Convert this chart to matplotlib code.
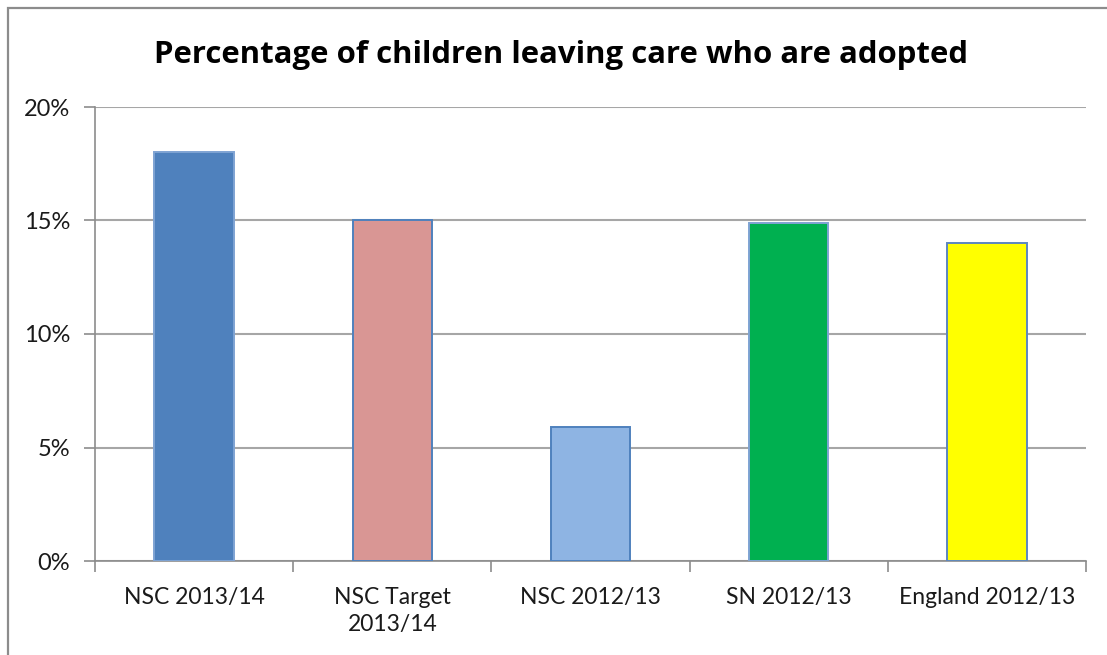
import matplotlib
matplotlib.use("Agg")
import matplotlib.pyplot as plt
from matplotlib.patches import Rectangle
from matplotlib.ticker import FuncFormatter, FixedLocator

categories = ["NSC 2013/14", "NSC Target\n2013/14", "NSC 2012/13", "SN 2012/13", "England 2012/13"]
values = [18.0, 15.0, 5.9, 14.9, 14.0]
fill_colors = ["#4F81BD", "#D99694", "#8EB4E3", "#00B050", "#FFFF00"]
edge_colors = ["#7FA3D3", "#4F81BD", "#4F81BD", "#7FA3D3", "#5C86C0"]
y_ticks = [0, 5, 10, 15, 20]

plt.rcParams["font.family"] = ["Lato", "DejaVu Sans"]

W, H, DPI = 1107, 655, 100
fig = plt.figure(figsize=(W / DPI, H / DPI), dpi=DPI)

# chart-area border (runs off the right and bottom of the canvas)
fig.patches.append(Rectangle((8 / W, -0.1), 1.2, 1 - 8 / H + 0.1, transform=fig.transFigure,
                             fill=False, edgecolor="#8C8C8C", linewidth=1.6))

ax = fig.add_axes([95 / W, 1 - 561 / H, (1086 - 95) / W, (561 - 107) / H])

x = list(range(len(categories)))
ax.bar(x, values, width=0.40, color=fill_colors, edgecolor=edge_colors, linewidth=1.4, zorder=3)

ax.set_xlim(-0.5, len(categories) - 0.5)
ax.set_ylim(0, 20)
ax.yaxis.set_major_locator(FixedLocator(y_ticks))
ax.yaxis.set_major_formatter(FuncFormatter(lambda v, p: f"{v:.0f}%"))
ax.grid(axis="y", color="#A6A6A6", linewidth=1.5, zorder=0)
ax.set_axisbelow(True)

ax.set_xticks(x)
ax.set_xticklabels(categories, fontsize=16.5, color="#1A1A1A", linespacing=1.35)
ax.xaxis.set_minor_locator(FixedLocator([i - 0.5 for i in range(len(categories) + 1)]))
ax.tick_params(axis="x", which="major", length=0, pad=19)
ax.tick_params(axis="x", which="minor", length=8, width=1.2, color="#8C8C8C")
ax.tick_params(axis="y", length=8, width=1.2, color="#8C8C8C", labelsize=17,
               labelcolor="#1A1A1A", pad=10)

for side in ["top", "right"]:
    ax.spines[side].set_visible(False)
for side in ["left", "bottom"]:
    ax.spines[side].set_color("#8C8C8C")
    ax.spines[side].set_linewidth(1.2)

fig.text(561 / W, 1 - 55 / H, "Percentage of children leaving care who are adopted",
         ha="center", va="center", fontsize=22.4, fontweight="bold", color="#000000",
         family=["Open Sans", "DejaVu Sans"])

fig.savefig("out.png", dpi=DPI, facecolor="white")
